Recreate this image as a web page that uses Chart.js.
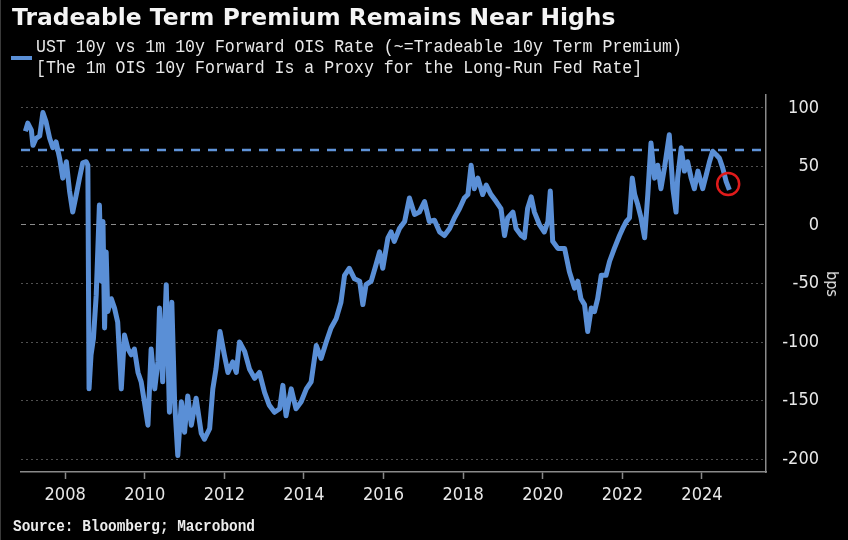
<!DOCTYPE html>
<html>
<head>
<meta charset="utf-8">
<title>Tradeable Term Premium Remains Near Highs</title>
<script src="https://cdn.jsdelivr.net/npm/chart.js@4.4.1/dist/chart.umd.min.js"></script>
<style>
    html, body { margin: 0; padding: 0; background: #000; }
    #wrap { position: relative; width: 848px; height: 540px; background: #000; overflow: hidden; border-left: 1px solid #3a3a3a; box-sizing: border-box; }
    #chart { position: absolute; left: 0; top: 0; }
    .title { position: absolute; left: 11px; top: 4px; color: #f4f4f4; font: bold 23.4px "DejaVu Sans", sans-serif; line-height: 26px; white-space: nowrap; }
    .legend-text { position: absolute; left: 35px; color: #e8e8e8; font: 18px "Liberation Mono", monospace; line-height: 21px; white-space: nowrap; transform: scaleX(0.92); transform-origin: left center; }
    .swatch { position: absolute; left: 10px; top: 56px; width: 21px; height: 4px; background: #5a8fd6; }
    .source { position: absolute; left: 12px; top: 517px; color: #ececec; font: bold 16px "Liberation Mono", monospace; line-height: 20px; white-space: nowrap; transform: scaleX(0.9); transform-origin: left center; }
    .unit { position: absolute; left: 831px; top: 284px; color: #e8e8e8; font: 16px "DejaVu Sans Condensed", sans-serif; line-height: 16px; white-space: nowrap; transform: translate(-50%, -50%) rotate(90deg); }
</style>
</head>
<body>
<div id="wrap">
    <canvas id="chart" width="848" height="540"></canvas>
    <div class="title">Tradeable Term Premium Remains Near Highs</div>
    <div class="swatch"></div>
    <div class="legend-text" style="top:37px;">UST 10y vs 1m 10y Forward OIS Rate (~=Tradeable 10y Term Premium)</div>
    <div class="legend-text" style="top:58px;">[The 1m OIS 10y Forward Is a Proxy for the Long-Run Fed Rate]</div>
    <div class="unit">bps</div>
    <div class="source">Source: Bloomberg; Macrobond</div>
</div>

<script>
// --- Data (decimal years, bps) ---
const dates = [
    2007.00, 2007.06, 2007.15, 2007.19, 2007.27, 2007.36, 2007.44, 2007.52, 2007.61, 2007.69,
    2007.77, 2007.86, 2007.94, 2008.03, 2008.11, 2008.19, 2008.28, 2008.36, 2008.44, 2008.53,
    2008.57, 2008.60, 2008.65, 2008.71, 2008.78, 2008.86, 2008.91, 2008.95, 2008.99, 2009.03,
    2009.07, 2009.16, 2009.24, 2009.32, 2009.41, 2009.49, 2009.58, 2009.66, 2009.74, 2009.83,
    2009.91, 2009.99, 2010.08, 2010.16, 2010.25, 2010.33, 2010.37, 2010.45, 2010.54, 2010.62,
    2010.68, 2010.75, 2010.83, 2010.92, 2011.00, 2011.08, 2011.17, 2011.29, 2011.42, 2011.50,
    2011.63, 2011.71, 2011.79, 2011.89, 2012.00, 2012.09, 2012.21, 2012.30, 2012.38, 2012.51,
    2012.63, 2012.76, 2012.88, 2013.01, 2013.13, 2013.26, 2013.39, 2013.47, 2013.55, 2013.68,
    2013.80, 2013.93, 2014.06, 2014.18, 2014.31, 2014.43, 2014.56, 2014.68, 2014.81, 2014.93,
    2015.02, 2015.14, 2015.27, 2015.40, 2015.48, 2015.56, 2015.69, 2015.81, 2015.90, 2015.98,
    2016.11, 2016.19, 2016.27, 2016.40, 2016.53, 2016.65, 2016.78, 2016.90, 2017.03, 2017.15,
    2017.28, 2017.41, 2017.53, 2017.66, 2017.78, 2017.91, 2018.03, 2018.12, 2018.20, 2018.28,
    2018.37, 2018.49, 2018.58, 2018.70, 2018.83, 2018.95, 2019.04, 2019.12, 2019.25, 2019.33,
    2019.46, 2019.54, 2019.62, 2019.71, 2019.79, 2019.92, 2020.04, 2020.13, 2020.19, 2020.25,
    2020.38, 2020.55, 2020.67, 2020.80, 2020.88, 2020.96, 2021.05, 2021.13, 2021.22, 2021.30,
    2021.38, 2021.47, 2021.59, 2021.68, 2021.80, 2021.93, 2022.01, 2022.10, 2022.18, 2022.25,
    2022.31, 2022.39, 2022.47, 2022.56, 2022.64, 2022.72, 2022.81, 2022.89, 2022.97, 2023.06,
    2023.18, 2023.27, 2023.35, 2023.39, 2023.48, 2023.56, 2023.64, 2023.73, 2023.81, 2023.90,
    2024.02, 2024.11, 2024.19, 2024.27, 2024.36, 2024.44, 2024.52, 2024.61, 2024.69
];
const termPremium = [
    80, 87, 81, 68, 74, 76, 96, 88, 74, 66,
    71, 57, 40, 54, 29, 11, 26, 40, 53, 54,
    51, -140, -111, -97, -60, 17, -48, 3, -88, -23,
    -74, -63, -71, -83, -140, -94, -106, -111, -106, -126,
    -134, -151, -171, -106, -140, -117, -71, -134, -51, -160,
    -66, -151, -197, -151, -177, -146, -171, -148, -178, -183,
    -174, -140, -123, -91, -111, -126, -117, -126, -100, -108,
    -123, -131, -126, -143, -154, -160, -157, -137, -163, -140,
    -157, -151, -140, -134, -103, -114, -100, -88, -80, -66,
    -43, -37, -46, -48, -68, -51, -48, -34, -23, -37,
    -11, -6, -14, -3, 3, 23, 9, 11, 20, 3,
    4, -6, -9, -3, 6, 14, 23, 26, 51, 31,
    40, 26, 34, 26, 20, 14, -9, 6, 11, -3,
    -9, -11, 14, 24, 11, 0, -6, 3, 29, -14,
    -20, -20, -40, -54, -48, -63, -68, -91, -71, -74,
    -63, -43, -43, -31, -20, -9, -3, 3, 6, 40,
    26, 17, 6, -11, 26, 70, 40, 51, 31, 49,
    77, 31, 11, 40, 66, 46, 54, 40, 31, 46,
    31, 43, 54, 63, 60, 57, 49, 37, 30
];

// reference level (recent highs) and highlighted latest reading
const highLevel = 64;
const latestDate = [2024.66];
const latestValue = [35];

// axes
const xRange = [2006.89, 2025.61];
const yRange = [-211, 111];
const yearTicks = [2008, 2010, 2012, 2014, 2016, 2018, 2020, 2022, 2024];
const bpsTicks = [-200, -150, -100, -50, 0, 50, 100];

const lineBlue = '#5a8fd6';
const axisGrey = '#8a8a8a';
const tickFont = { family: '"DejaVu Sans Condensed", "Liberation Sans Narrow", sans-serif', size: 18 };

const seriesPoints = dates.map((d, i) => ({ x: d, y: termPremium[i] }));
const highPoints = xRange.map(x => ({ x: x, y: highLevel }));
const latestPoints = latestDate.map((d, i) => ({ x: d, y: latestValue[i] }));

new Chart(document.getElementById('chart'), {
    type: 'line',
    data: {
        datasets: [
            {
                label: 'UST 10y vs 1m 10y Forward OIS Rate',
                data: seriesPoints,
                borderColor: lineBlue,
                borderWidth: 5,
                borderJoinStyle: 'round',
                pointRadius: 0,
                tension: 0,
                order: 0
            },
            {
                label: 'High',
                data: highPoints,
                borderColor: '#5f93d8',
                borderWidth: 2.5,
                borderDash: [9, 8],
                pointRadius: 0,
                order: 2
            },
            {
                label: 'Latest',
                data: latestPoints,
                showLine: false,
                pointRadius: 11,
                pointBorderWidth: 2.5,
                pointBorderColor: '#e01b1b',
                pointBackgroundColor: 'rgba(0,0,0,0)',
                order: -1
            }
        ]
    },
    options: {
        responsive: false,
        animation: false,
        devicePixelRatio: 1,
        // right padding leaves room for the rotated "bps" unit label
        layout: { padding: { left: 20, top: 95, right: 30, bottom: 0 } },
        plugins: {
            legend: { display: false },
            tooltip: { enabled: false },
            title: { display: false }
        },
        scales: {
            x: {
                type: 'linear',
                min: xRange[0],
                max: xRange[1],
                afterBuildTicks: axis => { axis.ticks = yearTicks.map(v => ({ value: v })); },
                afterFit: axis => { axis.height = 68; },
                grid: { drawOnChartArea: false, drawTicks: true, tickLength: 7, tickColor: axisGrey, tickWidth: 1.5, color: axisGrey },
                border: { display: true, color: axisGrey, width: 1.5 },
                ticks: {
                    color: '#e8e8e8',
                    font: tickFont,
                    padding: 6,
                    maxRotation: 0,
                    autoSkip: false,
                    callback: v => String(v)
                }
            },
            y: {
                type: 'linear',
                position: 'right',
                min: yRange[0],
                max: yRange[1],
                afterBuildTicks: axis => { axis.ticks = bpsTicks.map(v => ({ value: v })); },
                afterFit: axis => { axis.width = 53; },
                grid: {
                    drawTicks: false,
                    lineWidth: 1,
                    color: ctx => (ctx.tick && ctx.tick.value === 0) ? '#8c8c8c' : '#505050'
                },
                border: {
                    display: true,
                    color: axisGrey,
                    width: 1.5,
                    dash: ctx => (ctx.tick && ctx.tick.value === 0) ? [5, 4] : [2, 3]
                },
                ticks: {
                    color: '#e8e8e8',
                    font: tickFont,
                    padding: 10,
                    crossAlign: 'far',
                    callback: v => String(v)
                }
            }
        }
    }
});
</script>
</body>
</html>
